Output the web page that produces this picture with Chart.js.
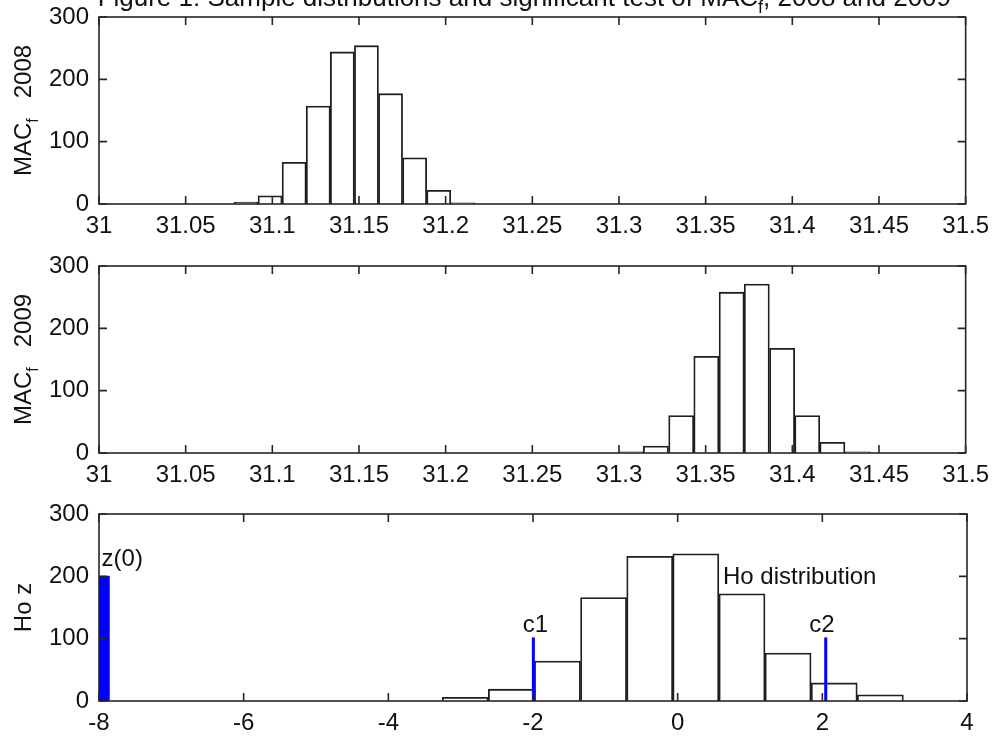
<!DOCTYPE html>
<html>
<head>
<meta charset="utf-8">
<script src="https://cdn.jsdelivr.net/npm/chart.js@4.4.1/dist/chart.umd.min.js"></script>
<style>
  html, body { margin: 0; padding: 0; background: #fff; }
  #wrap { position: relative; width: 997px; height: 740px; overflow: hidden; }
  canvas { position: absolute; left: 0; }
</style>
</head>
<body>
<div id="wrap">
  <canvas id="c2008" width="997" height="244" style="top:0px"></canvas>
  <canvas id="c2009" width="997" height="244" style="top:249px"></canvas>
  <canvas id="cz"    width="997" height="244" style="top:497px"></canvas>
</div>
<script>
// MAC_f sample distribution, 2008 (bin centres / counts)
const bins2008   = [31.0848, 31.0987, 31.1126, 31.1265, 31.1404, 31.1543, 31.1682, 31.1821, 31.1960, 31.2099];
const counts2008 = [3, 13, 67, 157, 244, 254, 177, 74, 22, 2];

// MAC_f sample distribution, 2009
const bins2009   = [31.3068, 31.3213, 31.3359, 31.3504, 31.3650, 31.3795, 31.3941, 31.4086, 31.4231, 31.4377];
const counts2009 = [2, 11, 60, 155, 258, 271, 168, 60, 17, 2];

// Ho distribution of z
const binsZ   = [-2.937, -2.299, -1.662, -1.024, -0.386, 0.251, 0.889, 1.526, 2.164, 2.802];
const countsZ = [6, 19, 64, 166, 232, 236, 172, 77, 29, 10];

// z(0) bar (cut by the left axis) and critical values c1, c2
const z0Edges        = [-8, -7.85];
const z0Count        = 200;
const criticalValues = [-1.995, 2.047];
const criticalHeight = 102;

// tick labels
const macTicks   = [31, 31.05, 31.1, 31.15, 31.2, 31.25, 31.3, 31.35, 31.4, 31.45, 31.5];
const zTicks     = [-8, -6, -4, -2, 0, 2, 4];
const countTicks = [0, 100, 200, 300];

const FONT = '"Liberation Sans", Arial, sans-serif';
const INK  = '#111';
const BLUE = '#0000ff';

Chart.defaults.font.family = FONT;
Chart.defaults.font.size   = 24;
Chart.defaults.color       = INK;

// draw text made of parts, some of them subscript
function drawParts(ctx, parts, x, y, size) {
  const subSize = Math.round(size * 0.68);
  let w = 0;
  parts.forEach(p => {
    ctx.font = `${p.sub ? subSize : size}px ${FONT}`;
    p.w = ctx.measureText(p.t).width;
    w += p.w;
  });
  let cx = x - w / 2;
  parts.forEach(p => {
    ctx.font = `${p.sub ? subSize : size}px ${FONT}`;
    ctx.fillText(p.t, cx, y + (p.sub ? size * 0.3 : 0));
    cx += p.w;
  });
}

const matlabAxes = {
  id: 'matlabAxes',
  afterDraw(chart, args, opts) {
    const { ctx, chartArea: a, scales: { x, y } } = chart;
    ctx.save();

    // box + inward ticks on all sides
    ctx.strokeStyle = '#262626';
    ctx.lineWidth = 1.6;
    ctx.strokeRect(a.left, a.top, a.right - a.left, a.bottom - a.top);
    ctx.beginPath();
    x.ticks.forEach(t => {
      const px = x.getPixelForValue(t.value);
      ctx.moveTo(px, a.bottom); ctx.lineTo(px, a.bottom - 8);
      ctx.moveTo(px, a.top);    ctx.lineTo(px, a.top + 8);
    });
    y.ticks.forEach(t => {
      const py = y.getPixelForValue(t.value);
      ctx.moveTo(a.left, py);  ctx.lineTo(a.left + 8, py);
      ctx.moveTo(a.right, py); ctx.lineTo(a.right - 8, py);
    });
    ctx.stroke();

    ctx.fillStyle = INK;
    ctx.textAlign = 'left';
    ctx.textBaseline = 'alphabetic';

    // y label, rotated
    ctx.save();
    ctx.translate(31, (a.top + a.bottom) / 2);
    ctx.rotate(-Math.PI / 2);
    drawParts(ctx, opts.ylabel, 0, 0, 24);
    ctx.restore();

    // title (only top panel), cut off by the top of the figure
    if (opts.title) drawParts(ctx, opts.title, (a.left + a.right) / 2 - 8, 5.5, 26);

    // text notes in data coords
    (opts.notes || []).forEach(n => {
      ctx.font = `24px ${FONT}`;
      ctx.textAlign = n.align;
      ctx.fillText(n.text, x.getPixelForValue(n.x), y.getPixelForValue(n.y));
    });
    ctx.restore();
  }
};

function histDataset(bins, counts) {
  return {
    type: 'bar',
    data: bins.map((b, i) => ({ x: b, y: counts[i] })),
    backgroundColor: '#fff',
    borderColor: '#1e1e1e',
    borderWidth: 1.8,
    barPercentage: 1,
    categoryPercentage: 1,
    grouped: false,
    order: 2
  };
}

function makePanel(id, datasets, xmin, xmax, xticks, pluginOpts) {
  return new Chart(document.getElementById(id), {
    type: 'bar',
    data: { datasets },
    options: {
      responsive: false,
      animation: false,
      layout: { padding: { top: 17, right: 30, left: 0, bottom: 0 } },
      plugins: { legend: { display: false }, tooltip: { enabled: false }, matlabAxes: pluginOpts },
      scales: {
        x: {
          type: 'linear', min: xmin, max: xmax, offset: false,
          grid: { display: false, drawTicks: false, offset: false },
          border: { display: false },
          ticks: { padding: 8, maxRotation: 0, autoSkip: false, callback: v => String(v) },
          afterBuildTicks: s => { s.ticks = xticks.map(v => ({ value: v })); },
          afterFit: s => { s.height = 40; }
        },
        y: {
          type: 'linear', min: 0, max: 300,
          grid: { display: false, drawTicks: false },
          border: { display: false },
          ticks: { padding: 10, callback: v => String(v) },
          afterBuildTicks: s => { s.ticks = countTicks.map(v => ({ value: v })); },
          afterFit: s => { s.width = 99; s.paddingTop = 0; s.paddingBottom = 0; }
        }
      }
    },
    plugins: [matlabAxes]
  });
}

makePanel('c2008', [histDataset(bins2008, counts2008)], 31, 31.5, macTicks, {
  ylabel: [{ t: 'MAC' }, { t: 'f', sub: true }, { t: '   2008' }],
  title: [{ t: 'Figure 1: Sample distributions and significant test of MAC' }, { t: 'f', sub: true }, { t: ', 2008 and 2009' }]
});

makePanel('c2009', [histDataset(bins2009, counts2009)], 31, 31.5, macTicks, {
  ylabel: [{ t: 'MAC' }, { t: 'f', sub: true }, { t: '   2009' }]
});

const zSets = [histDataset(binsZ, countsZ)];
zSets.push({
  type: 'line',
  data: z0Edges.map(v => ({ x: v, y: z0Count })),
  borderColor: BLUE, backgroundColor: BLUE, borderWidth: 1,
  pointRadius: 0, fill: 'origin', order: 0
});
criticalValues.forEach(c => {
  zSets.push({
    type: 'line',
    data: [{ x: c, y: 0 }, { x: c, y: criticalHeight }],
    borderColor: BLUE, borderWidth: 3, pointRadius: 0, fill: false, order: 0
  });
});

makePanel('cz', zSets, -8, 4, zTicks, {
  ylabel: [{ t: 'Ho z' }],
  notes: [
    { text: 'z(0)', x: -7.964, y: 216, align: 'left' },
    { text: 'c1', x: -1.965, y: 111, align: 'center' },
    { text: 'c2', x: 1.996, y: 111, align: 'center' },
    { text: 'Ho distribution', x: 0.627, y: 188, align: 'left' }
  ]
});
</script>
</body>
</html>
